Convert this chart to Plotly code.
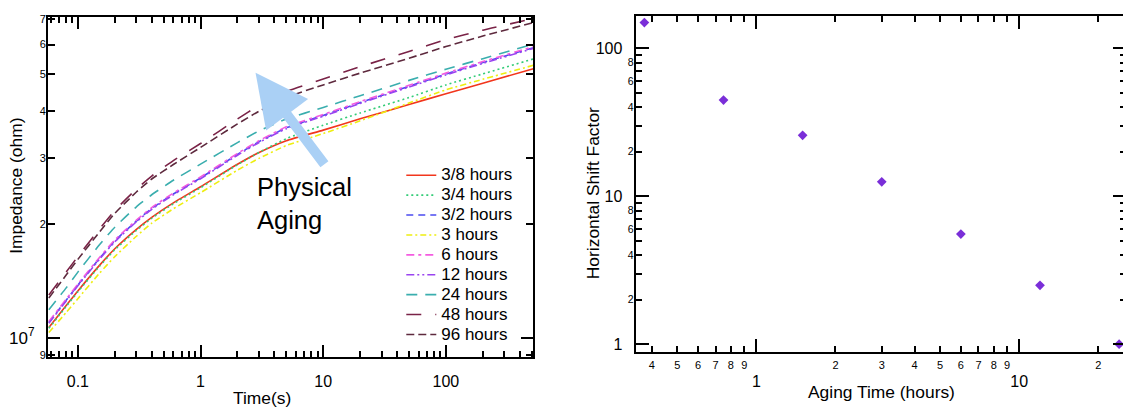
import plotly.graph_objects as go

# ---------------- data ----------------
time_s = [0.058, 0.08, 0.1, 0.15, 0.2, 0.3, 0.4, 0.6, 1, 2, 3, 5, 10, 20, 50, 100, 200, 516]

series_names = ["3/8 hours", "3/4 hours", "3/2 hours", "3 hours", "6 hours",
                "12 hours", "24 hours", "48 hours", "96 hours"]

# impedance in units of 1e7 ohm
imp_3_8h = [1.064, 1.214, 1.330, 1.555, 1.721, 1.938, 2.086, 2.279, 2.515,
            2.886, 3.102, 3.334, 3.556, 3.810, 4.159, 4.442, 4.737, 5.175]
imp_3_4h = [1.058, 1.207, 1.323, 1.546, 1.711, 1.926, 2.074, 2.265, 2.500,
            2.878, 3.102, 3.375, 3.664, 3.950, 4.339, 4.689, 5.015, 5.495]
imp_3_2h = [1.096, 1.255, 1.379, 1.622, 1.806, 2.039, 2.202, 2.406, 2.655,
            3.065, 3.315, 3.606, 3.891, 4.207, 4.650, 5.009, 5.375, 5.888]
imp_3h = [1.032, 1.164, 1.268, 1.482, 1.640, 1.858, 2.012, 2.198, 2.426,
          2.784, 2.992, 3.236, 3.482, 3.764, 4.197, 4.549, 4.853, 5.285]
imp_6h = [1.103, 1.263, 1.387, 1.632, 1.817, 2.051, 2.215, 2.420, 2.671,
          3.083, 3.335, 3.628, 3.914, 4.232, 4.678, 5.039, 5.407, 5.923]
imp_12h = [1.091, 1.249, 1.372, 1.614, 1.797, 2.029, 2.191, 2.394, 2.642,
           3.050, 3.298, 3.588, 3.872, 4.186, 4.627, 4.984, 5.348, 5.859]
imp_24h = [1.186, 1.353, 1.492, 1.764, 1.964, 2.225, 2.395, 2.617, 2.888,
           3.294, 3.541, 3.806, 4.083, 4.388, 4.820, 5.162, 5.505, 6.013]
imp_48h = [1.297, 1.490, 1.642, 1.942, 2.176, 2.479, 2.685, 2.951, 3.276,
           3.806, 4.139, 4.503, 4.861, 5.240, 5.755, 6.182, 6.553, 7.031]
imp_96h = [1.274, 1.463, 1.613, 1.907, 2.137, 2.435, 2.637, 2.881, 3.199,
           3.693, 3.993, 4.344, 4.689, 5.039, 5.518, 5.927, 6.321, 6.863]

aging_time_h = [0.375, 0.75, 1.5, 3, 6, 12, 24]
shift_factor = [149, 44.6, 25.8, 12.5, 5.55, 2.5, 1.0]

# tick values / labels
x1_major = [0.1, 1, 10, 100]
x1_major_text = ["0.1", "1", "10", "100"]
x1_minor = [0.06, 0.07, 0.08, 0.09, 0.2, 0.3, 0.4, 0.5, 0.6, 0.7, 0.8, 0.9,
            2, 3, 4, 5, 6, 7, 8, 9, 20, 30, 40, 50, 60, 70, 80, 90,
            200, 300, 400, 500]
y1_major = [1e7]
y1_major_text = ["10<sup>7</sup>"]
y1_small = [9e6, 2e7, 3e7, 4e7, 5e7, 6e7, 7e7]
y1_small_text = ["9", "2", "3", "4", "5", "6", "7"]

x2_major = [1, 10]
x2_major_text = ["1", "10"]
x2_small = [0.4, 0.5, 0.6, 0.7, 0.8, 0.9, 2, 3, 4, 5, 6, 7, 8, 9, 20]
x2_small_text = ["4", "5", "6", "7", "8", "9", "2", "3", "4", "5", "6", "7", "8", "9", "2"]
y2_major = [1, 10, 100]
y2_major_text = ["1", "10", "100"]
y2_minor = [2, 3, 4, 5, 6, 7, 8, 9, 20, 30, 40, 50, 60, 70, 80, 90]
y2_small = [2, 4, 6, 8, 20, 40, 60, 80]
y2_small_text = ["2", "4", "6", "8", "2", "4", "6", "8"]

# ---------------- styles ----------------
FONT = "Liberation Sans, Arial, Helvetica, sans-serif"
colors = ["#f2361d", "#33cc77", "#4b4bf0", "#eeee10", "#f45ce0",
          "#9a44f0", "#3aaeae", "#7a2347", "#5e2a3e"]
dashes = ["solid", "2px,3px", "7px,5px", "6px,3px,2px,3px", "8px,4px,3px,4px",
          "8px,3px,2px,3px,2px,3px", "11px,8px", "15px,14px", "8px,4px"]
series = [imp_3_8h, imp_3_4h, imp_3_2h, imp_3h, imp_6h, imp_12h, imp_24h, imp_48h, imp_96h]

W, H = 1128, 413

fig = go.Figure()
for name, vals, c, d in zip(series_names, series, colors, dashes):
    fig.add_trace(go.Scatter(
        x=time_s, y=[v * 1e7 for v in vals], mode="lines",
        name='<span style="font-size:17px">' + name + '</span>',
        line=dict(color=c, width=1.6, dash=d, shape="spline", smoothing=0.45),
        xaxis="x", yaxis="y"))

fig.add_trace(go.Scatter(
    x=aging_time_h, y=shift_factor, mode="markers", showlegend=False,
    marker=dict(symbol="diamond", size=7.5, color="#7a2ed8"),
    xaxis="x2", yaxis="y2", cliponaxis=False))

# empty traces so that the label-only overlay axes exist
fig.add_trace(go.Scatter(x=[], y=[], xaxis="x", yaxis="y3", showlegend=False))
fig.add_trace(go.Scatter(x=[], y=[], xaxis="x4", yaxis="y4", showlegend=False))

axis_common = dict(type="log", showline=True, linecolor="black", linewidth=2,
                   showgrid=False, zeroline=False, ticks="inside", tickcolor="black",
                   tickwidth=1.5, mirror="ticks", tickmode="array")
label_only = dict(type="log", showline=False, showgrid=False, zeroline=False,
                  ticks="", tickmode="array")

x1_lo, x1_hi = -1.2441, 2.7128
y1_lo, y1_hi = 6.9478, 7.8512
x2_lo, x2_hi = -0.4595, 1.4064
y2_lo, y2_hi = -0.0532, 2.2193

x1_dom = [48 / W, 534.3 / W]
y1_dom = [(H - 359.3) / H, (H - 13.3) / H]
x2_dom = [636.7 / W, 1.0]
y2_dom = [(H - 354) / H, (H - 12) / H]

fig.update_layout(
    width=W, height=H,
    margin=dict(l=0, r=0, t=0, b=0),
    paper_bgcolor="white", plot_bgcolor="white",
    font=dict(family=FONT, color="black"),
    showlegend=True,
    legend=dict(x=402 / W, y=(H - 159) / H, xanchor="left", yanchor="top",
                bgcolor="rgba(0,0,0,0)", borderwidth=0,
                font=dict(family=FONT, size=13, color="black"),
                itemwidth=30, tracegroupgap=0),
    xaxis=dict(**axis_common, domain=x1_dom, anchor="y", range=[x1_lo, x1_hi],
               tickvals=x1_major, ticktext=x1_major_text, ticklen=12,
               tickfont=dict(size=16), ticklabelstandoff=9,
               minor=dict(tickmode="array", tickvals=x1_minor, ticks="inside",
                          ticklen=6, tickwidth=1.5, tickcolor="black", showgrid=False)),
    yaxis=dict(**axis_common, domain=y1_dom, anchor="x", range=[y1_lo, y1_hi],
               tickvals=y1_major, ticktext=y1_major_text, ticklen=12,
               tickfont=dict(size=17), ticklabelstandoff=8,
               minor=dict(tickmode="array", tickvals=y1_small, ticks="inside",
                          ticklen=7, tickwidth=1.5, tickcolor="black", showgrid=False)),
    yaxis3=dict(**label_only, overlaying="y", anchor="x", side="left",
                range=[y1_lo, y1_hi], tickvals=y1_small, ticktext=y1_small_text,
                tickfont=dict(size=11), ticklabelstandoff=1),
    xaxis2=dict(**axis_common, domain=x2_dom, anchor="y2", range=[x2_lo, x2_hi],
                tickvals=x2_major, ticktext=x2_major_text, ticklen=13,
                tickfont=dict(size=16), ticklabelstandoff=14,
                minor=dict(tickmode="array", tickvals=x2_small, ticks="inside",
                           ticklen=6, tickwidth=1.5, tickcolor="black", showgrid=False)),
    xaxis4=dict(**label_only, overlaying="x2", anchor="y2", side="bottom",
                range=[x2_lo, x2_hi], tickvals=x2_small, ticktext=x2_small_text,
                tickfont=dict(size=11), ticklabelstandoff=5),
    yaxis2=dict(**axis_common, domain=y2_dom, anchor="x2", range=[y2_lo, y2_hi],
                tickvals=y2_major, ticktext=y2_major_text, ticklen=13,
                tickfont=dict(size=16), ticklabelstandoff=8,
                minor=dict(tickmode="array", tickvals=y2_minor, ticks="inside",
                           ticklen=6, tickwidth=1.5, tickcolor="black", showgrid=False)),
    yaxis4=dict(**label_only, overlaying="y2", anchor="x2", side="left",
                range=[y2_lo, y2_hi], tickvals=y2_small, ticktext=y2_small_text,
                tickfont=dict(size=10.5), ticklabelstandoff=1),
)

# axis titles
TS = 17.4
fig.add_annotation(text="Impedance (ohm)", x=16 / W, y=(H - 185) / H, xref="paper", yref="paper",
                   textangle=-90, showarrow=False, font=dict(size=TS), xanchor="center", yanchor="middle")
fig.add_annotation(text="Time(s)", x=262 / W, y=(H - 401) / H, xref="paper", yref="paper",
                   showarrow=False, font=dict(size=TS), xanchor="center", yanchor="middle")
fig.add_annotation(text="Horizontal Shift Factor", x=594 / W, y=(H - 192.5) / H, xref="paper", yref="paper",
                   textangle=-90, showarrow=False, font=dict(size=TS), xanchor="center", yanchor="middle")
fig.add_annotation(text="Aging Time (hours)", x=883 / W, y=(H - 395) / H, xref="paper", yref="paper",
                   showarrow=False, font=dict(size=TS), xanchor="center", yanchor="middle")

# physical aging arrow + label
fig.add_annotation(x=0.4483, y=7.7032, xref="x", yref="y", ax=70, ay=93,
                   showarrow=True, arrowhead=2, arrowwidth=10, arrowsize=1.05,
                   arrowcolor="#aad0f5", text="")
fig.add_annotation(text="Physical<br>Aging", x=255 / W, y=(H - 203) / H, xref="paper", yref="paper",
                   showarrow=False, font=dict(size=25.5), xanchor="left", yanchor="middle", align="left")

fig.write_html("out.html", config={"displayModeBar": False},
               post_script="document.body.style.margin='0px';document.body.style.overflow='hidden';")
